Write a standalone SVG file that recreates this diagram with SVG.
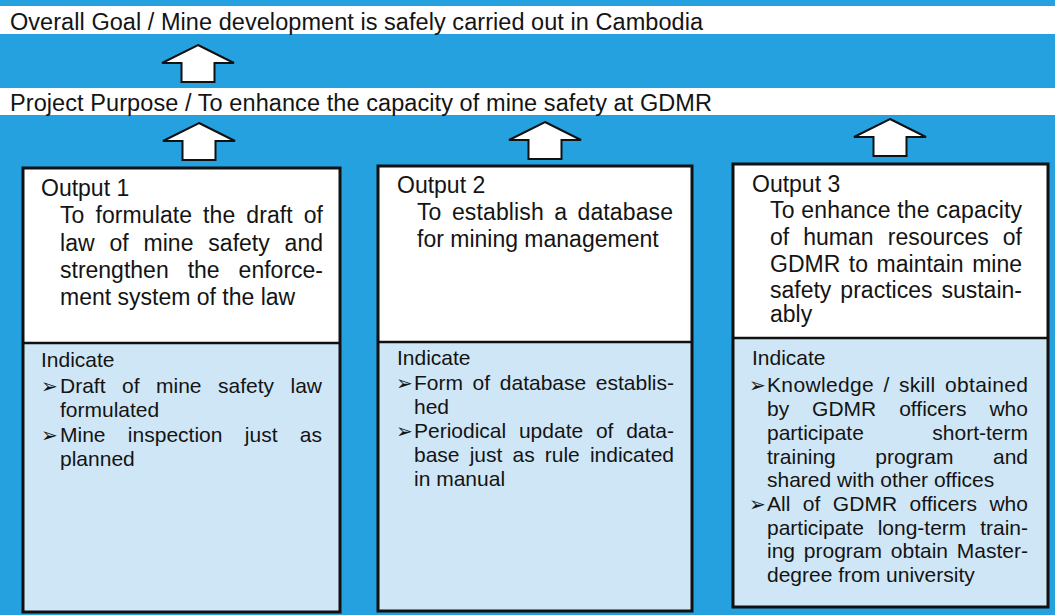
<svg xmlns="http://www.w3.org/2000/svg" width="1055" height="615" viewBox="0 0 1055 615">
<style>
.t{font-family:"Liberation Sans",Arial,sans-serif;fill:#141414}
.head{font-size:23.5px}
.body{font-size:23px}
.ind{font-size:21px}
.bul{font-family:"DejaVu Sans",sans-serif;font-size:20px;fill:#141414}
.frame{fill:none;stroke:#111;stroke-width:3}
.top{fill:#fff}
.bot{fill:#cfe6f7}
.div{stroke:#111;stroke-width:2.5}
.arrow{fill:#fff;stroke:#111;stroke-width:2;stroke-linejoin:miter}
</style>
<defs>
<path id="up" class="arrow" d="M0,0 L36,18 L16.5,18 L16.5,37 L-16.5,37 L-16.5,18 L-36,18 Z"/>
</defs>
<rect x="0" y="0" width="1055" height="615" fill="#25a1e0"/>

<g id="goal">
<rect x="0" y="6" width="1055" height="28" fill="#fff"/>
<text class="t head" x="10" y="30" textLength="693" lengthAdjust="spacing">Overall Goal / Mine development is safely carried out in Cambodia</text>
</g>
<g id="purpose">
<rect x="0" y="88" width="1055" height="27" fill="#fff"/>
<text class="t head" x="10" y="111" textLength="702" lengthAdjust="spacing">Project Purpose / To enhance the capacity of mine safety at GDMR</text>
</g>

<g id="connectors">
<use href="#up" x="198" y="45"/>
<use href="#up" x="199" y="123"/>
<use href="#up" x="545" y="122"/>
<use href="#up" x="890" y="119"/>
</g>

<g id="output1">
<rect class="top" x="23" y="168" width="317" height="175"/>
<rect class="bot" x="23" y="343" width="317" height="269"/>
<line class="div" x1="23" y1="343" x2="340" y2="343"/>
<rect class="frame" x="23" y="168" width="317" height="444"/>
<text class="t body" x="41" y="196">Output 1</text>
<text class="t body" x="60" y="223" textLength="263" lengthAdjust="spacing" word-spacing="4.4">To formulate the draft of</text>
<text class="t body" x="60" y="251" textLength="263" lengthAdjust="spacing" word-spacing="8.5">law of mine safety and</text>
<text class="t body" x="60" y="278" textLength="263" lengthAdjust="spacing" word-spacing="12.6">strengthen the enforce-</text>
<text class="t body" x="60" y="305">ment system of the law</text>
<text class="t ind" x="41" y="367">Indicate</text>
<text class="bul" x="41" y="393">➢</text>
<text class="t ind" x="60" y="393" textLength="262" lengthAdjust="spacing" word-spacing="10.6">Draft of mine safety law</text>
<text class="t ind" x="60" y="417">formulated</text>
<text class="bul" x="41" y="442">➢</text>
<text class="t ind" x="60" y="442" textLength="262" lengthAdjust="spacing" word-spacing="16.5">Mine inspection just as</text>
<text class="t ind" x="60" y="466">planned</text>
</g>

<g id="output2">
<rect class="top" x="378" y="166" width="314" height="176"/>
<rect class="bot" x="378" y="342" width="314" height="269"/>
<line class="div" x1="378" y1="342" x2="692" y2="342"/>
<rect class="frame" x="378" y="166" width="314" height="445"/>
<text class="t body" x="397" y="193">Output 2</text>
<text class="t body" x="417" y="220" textLength="256" lengthAdjust="spacing" word-spacing="3.9">To establish a database</text>
<text class="t body" x="417" y="247">for mining management</text>
<text class="t ind" x="397" y="365">Indicate</text>
<text class="bul" x="396" y="390">➢</text>
<text class="t ind" x="414" y="390" textLength="260" lengthAdjust="spacing" word-spacing="3.8">Form of database establis-</text>
<text class="t ind" x="414" y="414">hed</text>
<text class="bul" x="396" y="438">➢</text>
<text class="t ind" x="414" y="438" textLength="260" lengthAdjust="spacing" word-spacing="6.9">Periodical update of data-</text>
<text class="t ind" x="414" y="462" textLength="260" lengthAdjust="spacing" word-spacing="4.3">base just as rule indicated</text>
<text class="t ind" x="414" y="486">in manual</text>
</g>

<g id="output3">
<rect class="top" x="733" y="164" width="315" height="174"/>
<rect class="bot" x="733" y="338" width="315" height="269"/>
<line class="div" x1="733" y1="338" x2="1048" y2="338"/>
<rect class="frame" x="733" y="164" width="315" height="443"/>
<text class="t body" x="752" y="192">Output 3</text>
<text class="t body" x="770" y="218" textLength="252" lengthAdjust="spacing">To enhance the capacity</text>
<text class="t body" x="770" y="245" textLength="252" lengthAdjust="spacing" word-spacing="7.7">of human resources of</text>
<text class="t body" x="770" y="272" textLength="252" lengthAdjust="spacing" word-spacing="2.2">GDMR to maintain mine</text>
<text class="t body" x="770" y="298" textLength="252" lengthAdjust="spacing" word-spacing="2.6">safety practices sustain-</text>
<text class="t body" x="770" y="322">ably</text>
<text class="t ind" x="752" y="365">Indicate</text>
<text class="bul" x="749" y="392">➢</text>
<text class="t ind" x="767" y="392" textLength="261" lengthAdjust="spacing" word-spacing="3.1">Knowledge / skill obtained</text>
<text class="t ind" x="767" y="416" textLength="261" lengthAdjust="spacing" word-spacing="17">by GDMR officers who</text>
<text class="t ind" x="767" y="440" textLength="261" lengthAdjust="spacing" word-spacing="62.6">participate short-term</text>
<text class="t ind" x="767" y="464" textLength="261" lengthAdjust="spacing" word-spacing="33.7">training program and</text>
<text class="t ind" x="767" y="487">shared with other offices</text>
<text class="bul" x="749" y="511">➢</text>
<text class="t ind" x="767" y="511" textLength="261" lengthAdjust="spacing" word-spacing="6.6">All of GDMR officers who</text>
<text class="t ind" x="767" y="535" textLength="261" lengthAdjust="spacing" word-spacing="8">participate long-term train-</text>
<text class="t ind" x="767" y="558" textLength="261" lengthAdjust="spacing" word-spacing="3">ing program obtain Master-</text>
<text class="t ind" x="767" y="582">degree from university</text>
</g>
</svg>
